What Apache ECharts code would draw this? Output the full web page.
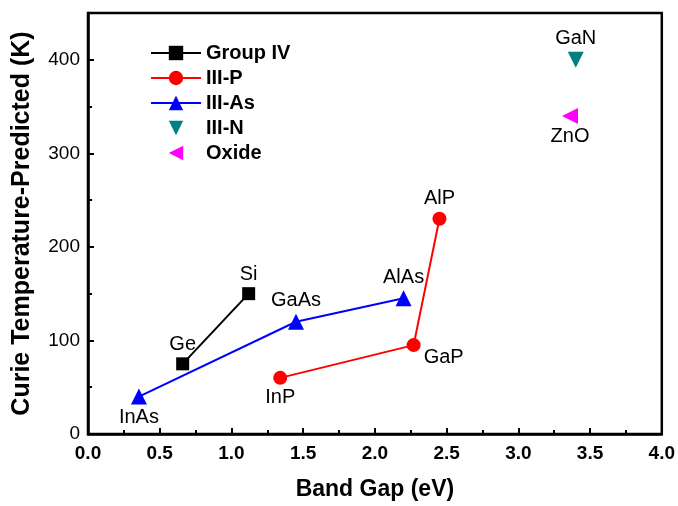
<!DOCTYPE html>
<html>
<head>
<meta charset="utf-8">
<script src="https://cdn.jsdelivr.net/npm/echarts@6/dist/echarts.min.js"></script>
<style>
  html, body { margin: 0; padding: 0; background: #fff; }
  #chart { width: 678px; height: 506px; }
</style>
</head>
<body>
<div id="chart"></div>
<script>
// band gap (eV) vs predicted Curie temperature (K)
var groupIV = [['Ge', 0.66, 75, 'top'], ['Si', 1.12, 150, 'top']];
var iiiP = [['InP', 1.34, 60, 'bottom'], ['GaP', 2.27, 95, 'right'], ['AlP', 2.45, 230, 'top']];
var iiiAs = [['InAs', 0.355, 40, 'bottom'], ['GaAs', 1.45, 120, 'top'], ['AlAs', 2.2, 145, 'top']];
var iiiN = [['GaN', 3.4, 400, 'top']];
var oxide = [['ZnO', 3.36, 340, 'bottom']];

var xTicks = { min: 0, max: 4, interval: 0.5 };
var yTicks = { min: 0, max: 450, interval: 100 };

var font = 'Liberation Sans, Arial, sans-serif';

function toData(list) {
    return list.map(function (d) {
        var lab = { show: true, position: d[3], distance: 3 };
        if (d[3] === 'right') { lab.offset = [0, 12]; }
        return { name: d[0], value: [d[1], d[2]], label: lab };
    });
}

function mkSeries(name, list, color, symbol, size, rotate, lineW) {
    return {
        name: name,
        type: 'line',
        data: toData(list),
        symbol: symbol,
        symbolSize: size,
        symbolRotate: rotate || 0,
        color: color,
        lineStyle: { color: color, width: lineW },
        itemStyle: { color: color, opacity: 1 },
        label: {
            formatter: '{b}',
            color: '#000',
            fontFamily: font,
            fontSize: 20
        },
        animation: false
    };
}

var chart = echarts.init(document.getElementById('chart'));
var option = {
    backgroundColor: '#fff',
    grid: {
        left: 88, right: 15, top: 13, bottom: 70,
        show: true, borderColor: '#000', borderWidth: 2.5, backgroundColor: 'transparent'
    },
    legend: {
        orient: 'vertical',
        left: 145,
        top: 38,
        itemGap: 5,
        itemWidth: 50,
        itemHeight: 18,
        symbolRotate: 'inherit',
        textStyle: { fontFamily: font, fontSize: 20, fontWeight: 'bold', color: '#000' },
        data: ['Group IV', 'III-P', 'III-As', 'III-N', 'Oxide']
    },
    xAxis: {
        type: 'value',
        min: xTicks.min, max: xTicks.max, interval: xTicks.interval,
        name: 'Band Gap (eV)',
        nameLocation: 'middle',
        nameGap: 44,
        nameTextStyle: { fontFamily: font, fontSize: 23, fontWeight: 'bold', color: '#000' },
        axisLine: { lineStyle: { color: '#000', width: 2.5 } },
        axisTick: { inside: true, length: 6, lineStyle: { color: '#000', width: 2 } },
        minorTick: { show: true, splitNumber: 2, length: 4, lineStyle: { color: '#000', width: 2 } },
        axisLabel: {
            fontFamily: font, fontSize: 19, fontWeight: 'bold', color: '#000', margin: 10,
            formatter: function (v) { return v.toFixed(1); }
        },
        splitLine: { show: false }
    },
    yAxis: {
        type: 'value',
        min: yTicks.min, max: yTicks.max, interval: yTicks.interval,
        name: 'Curie Temperature-Predicted (K)',
        nameLocation: 'middle',
        nameGap: 53,
        nameTextStyle: { fontFamily: font, fontSize: 25, fontWeight: 'bold', color: '#000' },
        axisLine: { lineStyle: { color: '#000', width: 2.5 } },
        axisTick: { inside: true, length: 6, lineStyle: { color: '#000', width: 2 } },
        minorTick: { show: true, splitNumber: 2, length: 4, lineStyle: { color: '#000', width: 2 } },
        axisLabel: {
            fontFamily: font, fontSize: 19, color: '#000', margin: 8, showMaxLabel: false,
            formatter: function (v) { return v > 400 ? '' : String(v); }
        },
        splitLine: { show: false }
    },
    series: [
        mkSeries('Group IV', groupIV, '#000000', 'rect', 13, 0, 2),
        mkSeries('III-P', iiiP, '#ff0000', 'circle', 14, 0, 2),
        mkSeries('III-As', iiiAs, '#0000ff', 'triangle', 16, 0, 2),
        mkSeries('III-N', iiiN, '#008080', 'triangle', 16, 180, 0),
        mkSeries('Oxide', oxide, '#ff00ff', 'triangle', 16, 90, 0)
    ]
};
chart.setOption(option);
</script>
</body>
</html>
